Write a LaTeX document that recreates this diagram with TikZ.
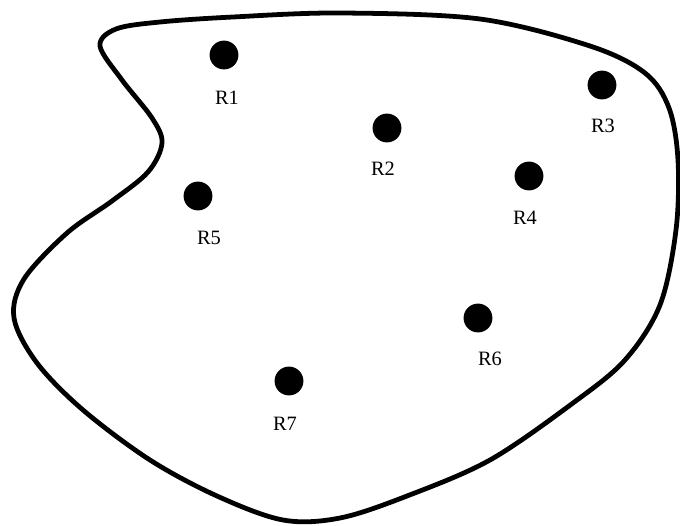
\documentclass[tikz,border=0pt]{standalone}
\usepackage{fontspec}
\setmainfont{Liberation Serif}

\begin{document}
\begin{tikzpicture}[
    x=0.025cm, y=-0.025cm,
    every node/.style={font=\fontsize{14.5}{16}\selectfont},
    robot/.style={circle, fill=black, inner sep=0pt, minimum size=0.72cm},
    region/.style={line width=3.4pt, line join=round}
]
    \useasboundingbox (0,0) rectangle (680,526);

    % --------------------------------------------------------
    % 1. BOUNDARY OF THE REGION
    % --------------------------------------------------------
    \draw [region] plot [smooth cycle, tension=0.55] coordinates {
        (100,46) (116,29) (160,22) (233,17) (340,13) (480,19)
        (590,46) (645,73) (669,108) (678,160) (676,230) (660,305)
        (625,360) (573,403) (490,460) (407,496) (340,518) (283,520)
        (217,496) (150,460) (83,410) (37,363) (14,318) (24,279)
        (67,233) (112,201) (148,172) (162,143) (152,118) (122,80)
    };

    % --------------------------------------------------------
    % 2. ROBOTS
    % --------------------------------------------------------
    \node (r1) [robot] at (224,55) {};
    \node (r2) [robot] at (387,128) {};
    \node (r3) [robot] at (602,85) {};
    \node (r4) [robot] at (529,176) {};
    \node (r5) [robot] at (198,196) {};
    \node (r6) [robot] at (478,318) {};
    \node (r7) [robot] at (289,381) {};

    % labels
    \node (l1) at (227,98) {R1};
    \node (l2) at (383,169) {R2};
    \node (l3) at (603,126) {R3};
    \node (l4) at (525,218) {R4};
    \node (l5) at (209,238) {R5};
    \node (l6) at (490,359) {R6};
    \node (l7) at (285,424) {R7};

\end{tikzpicture}
\end{document}
